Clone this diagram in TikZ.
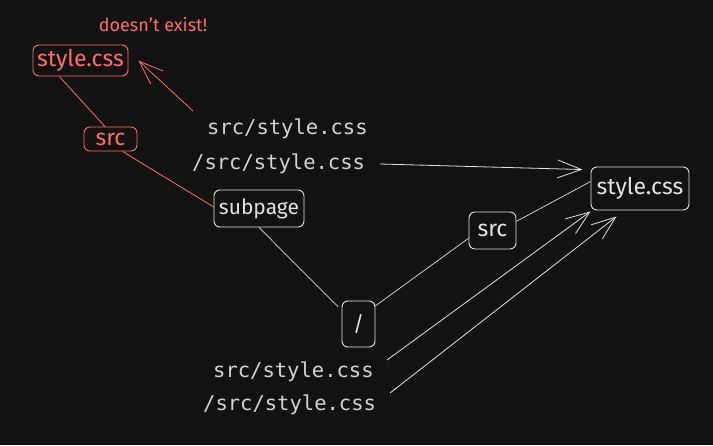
\documentclass[tikz,border=0pt]{standalone}
\usepackage{fontspec}
\setmainfont{Fira Sans}
\newfontfamily\monofont{DejaVu Sans Mono}
\usetikzlibrary{arrows.meta,calc}
\definecolor{bg}{HTML}{121212}
\definecolor{ink}{HTML}{E2E2E2}
\definecolor{redink}{HTML}{FF6B6B}
\definecolor{mono}{HTML}{D4D4D4}
\begin{document}
\begin{tikzpicture}[x=1pt,y=-1pt,
  box/.style={draw=ink, text=ink, rounded corners=6pt, line width=0.9pt, inner sep=0pt,
    font=\fontsize{21}{21}\selectfont},
  big/.style={font=\fontsize{23}{23}\selectfont},
  redbox/.style={box, draw=redink, text=redink},
  code/.style={text=mono, font=\monofont\fontsize{20.5}{20.5}\selectfont, inner sep=0pt, anchor=base west},
  link/.style={draw=ink, line width=0.7pt},
  redlink/.style={draw=redink, line width=0.8pt},
  arr/.style={-{Straight Barb[length=24pt,width=18pt]}, line width=0.8pt},
]
\fill[bg] (0,0) rectangle (713,445);
\useasboundingbox (0,0) rectangle (713,445);

\node[redbox, big, minimum width=95pt, minimum height=31pt] (rs) at (80.5,60.5) {style.css};
\node[text=redink, font=\fontsize{18}{18}\selectfont, inner sep=0pt] (note) at (153,25) {doesn't exist!};
\node[redbox, big, minimum width=53pt, minimum height=24pt] (rsrc) at (110.5,139) {src};
\node[box, minimum width=90pt, minimum height=37pt] (sub) at (259,208.5) {subpage};
\node[box, minimum width=33pt, minimum height=46pt] (slash) at (358.5,324) {/};
\node[box, big, minimum width=47pt, minimum height=37pt] (src) at (492.5,230.5) {src};
\node[box, big, minimum width=98pt, minimum height=43pt] (style) at (640,188.5) {style.css};

\node[code] (t1) at (207,134) {src/style.css};
\node[code] (t2) at (192,169) {/src/style.css};
\node[code] (t3) at (213,377) {src/style.css};
\node[code] (t4) at (203,410) {/src/style.css};

\coordinate (ra) at (193,111);
\coordinate (a1) at (380,164);
\coordinate (a2) at (387,360);
\coordinate (a3) at (390,393);

\draw[redlink] (rs.-143) -- (rsrc.114.6);
\draw[redlink] (rsrc.-46) -- (sub.178);
\draw[link, shorten >=5pt] (sub.south) -- (slash.141.8);
\draw[link] (slash.47.5) -- (src.-162);
\draw[link] (src.21.6) -- (style.172);

\draw[redlink, arr] (ra) -- ($(rs.east)+(10,0)$);
\draw[link, arr] (a1) -- ($(style.north west)+(-8,3)$);
\draw[link, arr] (a2) -- ($(style.south west)+(0,1)$);
\draw[link, arr] (a3) -- ($(style.south west)+(26,6)$);
\end{tikzpicture}
\end{document}
